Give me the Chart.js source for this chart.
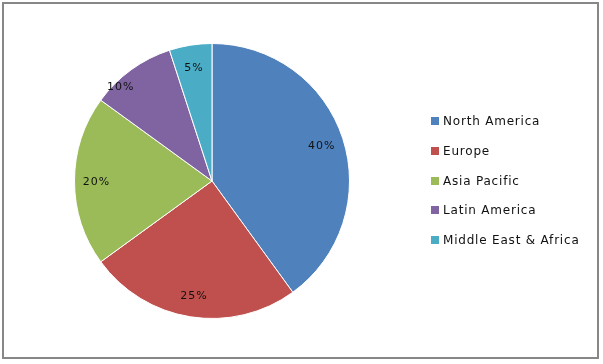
<!DOCTYPE html>
<html>
<head>
<meta charset="utf-8">
<script src="https://cdn.jsdelivr.net/npm/chart.js@4"></script>
<style>
    html, body { margin: 0; padding: 0; background: #fff; }
    #wrap { position: relative; width: 603px; height: 364px; }
    #frame {
        position: absolute; left: 2px; top: 2px; width: 593px; height: 353px;
        border: 2px solid #878787;
    }
    #pieChart { position: absolute; left: 0; top: 0; }
    #legend {
        position: absolute; left: 431px; top: 110px;
        font-family: "DejaVu Sans", sans-serif; font-size: 12px; letter-spacing: 0.8px; color: #111;
    }
    .item { height: 29.75px; line-height: 22px; white-space: nowrap; }
    .box { display: inline-block; width: 8px; height: 8px; margin-right: 4px; }
</style>
</head>
<body>
<div id="wrap">
    <div id="frame"></div>
    <canvas id="pieChart" width="603" height="364"></canvas>
    <div id="legend"></div>
</div>
<script>
const regions = ["North America", "Europe", "Asia Pacific", "Latin America", "Middle East & Africa"];
const shares = [40, 25, 20, 10, 5];
const colors = ["#4F81BD", "#C0504D", "#9BBB59", "#8064A2", "#4BACC6"];

// percent labels inside each slice (the small purple one sits a bit off its middle)
const sliceLabels = {
    id: "sliceLabels",
    afterDatasetsDraw(chart) {
        const ctx = chart.ctx;
        const meta = chart.getDatasetMeta(0);
        ctx.save();
        ctx.font = "11px 'DejaVu Sans', sans-serif";
        ctx.letterSpacing = "1px";
        ctx.fillStyle = "#111";
        ctx.textAlign = "center";
        ctx.textBaseline = "middle";
        meta.data.forEach(function (arc, i) {
            const p = arc.getProps(["x", "y", "startAngle", "endAngle", "outerRadius"], true);
            let mid = (p.startAngle + p.endAngle) / 2;
            let r = p.outerRadius * 0.84;
            if (i === 3) { mid -= 0.14; r = p.outerRadius * 0.955; }
            ctx.fillText(shares[i] + "%", p.x + Math.cos(mid) * r, p.y + Math.sin(mid) * r + 1);
        });
        ctx.restore();
    }
};

new Chart(document.getElementById("pieChart").getContext("2d"), {
    type: "pie",
    data: {
        labels: regions,
        datasets: [{
            data: shares,
            backgroundColor: colors,
            borderColor: "#ffffff",
            borderWidth: 1,
        }],
    },
    options: {
        responsive: false,
        animation: false,
        layout: { padding: { left: 74, right: 253, top: 43, bottom: 45 } },
        plugins: {
            legend: { display: false },
            tooltip: { enabled: false },
        },
    },
    plugins: [sliceLabels],
});

// legend on the right
const legend = document.getElementById("legend");
regions.forEach(function (name, i) {
    const row = document.createElement("div");
    row.className = "item";
    const box = document.createElement("span");
    box.className = "box";
    box.style.background = colors[i];
    row.appendChild(box);
    row.appendChild(document.createTextNode(name));
    legend.appendChild(row);
});
</script>
</body>
</html>
